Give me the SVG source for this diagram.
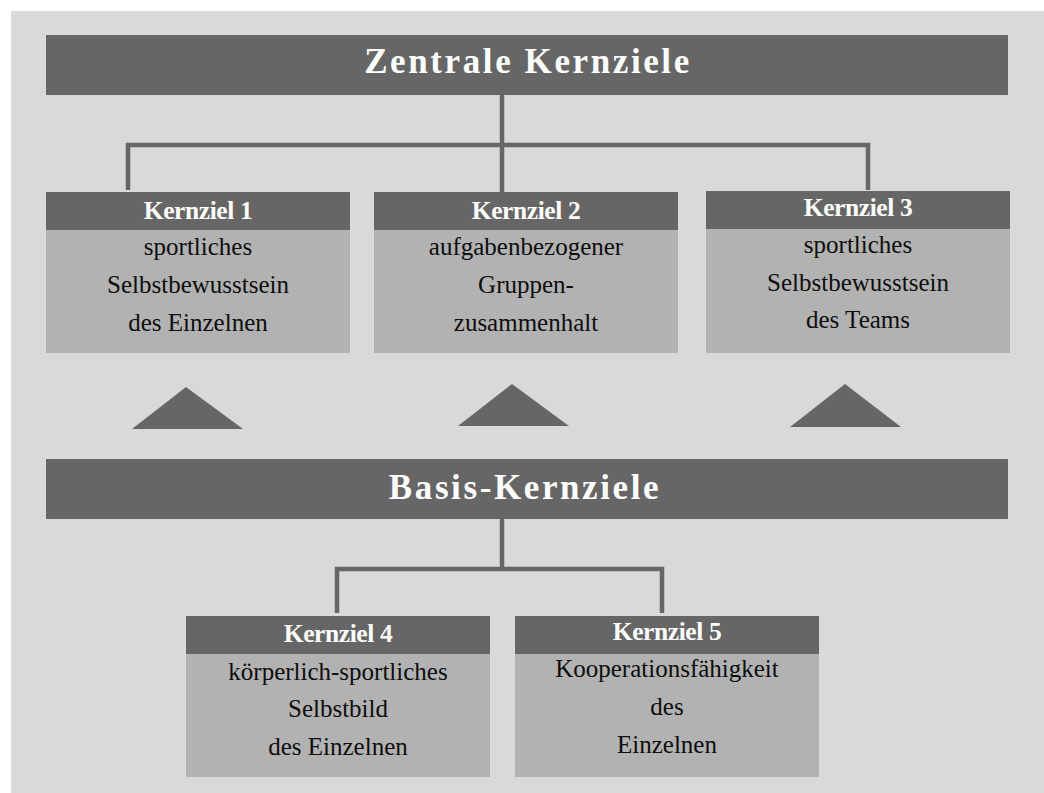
<svg xmlns="http://www.w3.org/2000/svg" width="1044" height="793" viewBox="0 0 1044 793">
<style>
.bg{fill:#d9d9d9}
.bar{fill:#666666}
.body{fill:#b2b2b2}
.title{font-family:"Liberation Serif",serif;font-weight:bold;font-size:35px;fill:#ffffff;letter-spacing:2.6px;text-anchor:middle}
.head{font-family:"Liberation Serif",serif;font-weight:bold;font-size:25.5px;fill:#ffffff;text-anchor:middle;letter-spacing:-0.4px}
.txt{font-family:"Liberation Serif",serif;font-size:25px;fill:#0d0d0d;text-anchor:middle}
.con{fill:none;stroke:#666666;stroke-width:4.5}
.tri{fill:#666666}
</style>
<rect class="bg" x="11" y="11" width="1033" height="782"/>
<g id="connectors">
<path class="con" d="M502,95 V145 M128,190 V145 H868 V190 M502,145 V192"/>
<path class="con" d="M502,519 V569 M337,613 V569 H662 V613"/>
</g>
<g id="zentrale">
<rect class="bar" x="46" y="35" width="962" height="60"/>
<text class="title" x="528" y="73">Zentrale Kernziele</text>
</g>
<g id="kernziel1">
<rect class="bar" x="46" y="192" width="304" height="38"/>
<rect class="body" x="46" y="230" width="304" height="123"/>
<text class="head" x="198" y="219">Kernziel 1</text>
<text class="txt" x="198" y="255">sportliches</text>
<text class="txt" x="198" y="293">Selbstbewusstsein</text>
<text class="txt" x="198" y="331">des Einzelnen</text>
</g>
<g id="kernziel2">
<rect class="bar" x="374" y="192" width="304" height="38"/>
<rect class="body" x="374" y="230" width="304" height="123"/>
<text class="head" x="526" y="219">Kernziel 2</text>
<text class="txt" x="526" y="255">aufgabenbezogener</text>
<text class="txt" x="526" y="293">Gruppen-</text>
<text class="txt" x="526" y="331">zusammenhalt</text>
</g>
<g id="kernziel3">
<rect class="bar" x="706" y="191" width="304" height="38"/>
<rect class="body" x="706" y="229" width="304" height="124"/>
<text class="head" x="858" y="216">Kernziel 3</text>
<text class="txt" x="858" y="253">sportliches</text>
<text class="txt" x="858" y="291">Selbstbewusstsein</text>
<text class="txt" x="858" y="328">des Teams</text>
</g>
<g id="arrows">
<polygon class="tri" points="186,387 243,429 132,429"/>
<polygon class="tri" points="512,384 569,426 458,426"/>
<polygon class="tri" points="845,384 901,427 790,427"/>
</g>
<g id="basis">
<rect class="bar" x="46" y="459" width="962" height="60"/>
<text class="title" x="525" y="499">Basis-Kernziele</text>
</g>
<g id="kernziel4">
<rect class="bar" x="186" y="616" width="304" height="38"/>
<rect class="body" x="186" y="654" width="304" height="123"/>
<text class="head" x="338" y="642">Kernziel 4</text>
<text class="txt" x="338" y="680">körperlich-sportliches</text>
<text class="txt" x="338" y="717">Selbstbild</text>
<text class="txt" x="338" y="755">des Einzelnen</text>
</g>
<g id="kernziel5">
<rect class="bar" x="515" y="616" width="304" height="38"/>
<rect class="body" x="515" y="654" width="304" height="123"/>
<text class="head" x="667" y="640">Kernziel 5</text>
<text class="txt" x="667" y="677">Kooperationsfähigkeit</text>
<text class="txt" x="667" y="715">des</text>
<text class="txt" x="667" y="753">Einzelnen</text>
</g>
</svg>
